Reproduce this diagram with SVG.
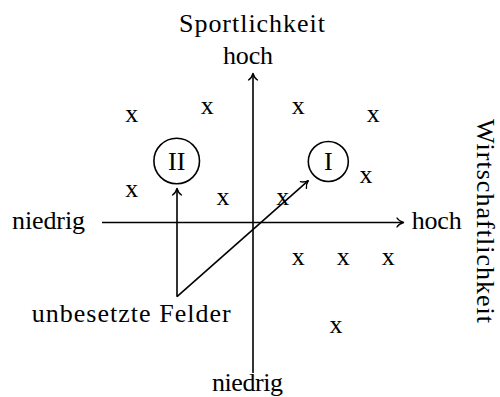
<svg xmlns="http://www.w3.org/2000/svg" width="500" height="397" viewBox="0 0 500 397">
<defs>
<style>
text{font-family:"Liberation Serif","Times New Roman",serif;font-size:26px;fill:#000;text-anchor:middle}
.ax{stroke:#000;stroke-width:1.6;fill:none}
.nd{stroke:#000;stroke-width:1.6;fill:#fff}
</style>
<marker id="arr" markerUnits="userSpaceOnUse" markerWidth="12" markerHeight="12" viewBox="-9 -6 12 12" refX="0" refY="0" orient="auto" overflow="visible">
<path d="M -6.5 -4.5 C -5 -2, -2 -0.6, 0 0 C -2 0.6, -5 2, -6.5 4.5" fill="none" stroke="#000" stroke-width="1.4" stroke-linecap="round" stroke-linejoin="round"/>
</marker>
</defs>
<rect width="500" height="397" fill="#fff"/>
<g id="connectors">
<path class="ax" d="M 253 373 L 253 73.5" marker-end="url(#arr)"/>
<path class="ax" d="M 102 222.5 L 403.5 222.5" marker-end="url(#arr)"/>
<path class="ax" d="M 177 296.7 L 177 188.5" marker-end="url(#arr)"/>
<path class="ax" d="M 177 296.7 L 308.3 180.7" marker-end="url(#arr)"/>
</g>
<g id="title-y"><text x="252" y="32" textLength="146" lengthAdjust="spacing">Sportlichkeit</text></g>
<g id="y-high"><text x="248" y="63.5" textLength="50" lengthAdjust="spacing">hoch</text></g>
<g id="y-low"><text x="247.5" y="391" textLength="71" lengthAdjust="spacing">niedrig</text></g>
<g id="x-low"><text x="48.5" y="228.5" textLength="73" lengthAdjust="spacing">niedrig</text></g>
<g id="x-high"><text x="436.7" y="228.5" textLength="50" lengthAdjust="spacing">hoch</text></g>
<g id="title-x"><text transform="translate(477,221) rotate(90)" textLength="204" lengthAdjust="spacing">Wirtschaftlichkeit</text></g>
<g id="label-unbesetzt"><text x="131.2" y="322" textLength="199" lengthAdjust="spacing">unbesetzte Felder</text></g>
<g id="node-II"><circle class="nd" cx="176.7" cy="161" r="22.8"/><text x="176.7" y="170">II</text></g>
<g id="node-I"><circle class="nd" cx="328.3" cy="161.5" r="20"/><text x="328.3" y="170">I</text></g>
<g id="x1"><text x="131.7" y="122">x</text></g>
<g id="x2"><text x="207.3" y="114">x</text></g>
<g id="x3"><text x="298.3" y="114">x</text></g>
<g id="x4"><text x="373.3" y="122">x</text></g>
<g id="x5"><text x="366" y="182.5">x</text></g>
<g id="x6"><text x="131.7" y="197">x</text></g>
<g id="x7"><text x="223" y="205">x</text></g>
<g id="x8"><text x="282.7" y="205">x</text></g>
<g id="x9"><text x="298.3" y="265">x</text></g>
<g id="x10"><text x="343.3" y="265">x</text></g>
<g id="x11"><text x="388.3" y="265">x</text></g>
<g id="x12"><text x="336" y="333.3">x</text></g>
</svg>
